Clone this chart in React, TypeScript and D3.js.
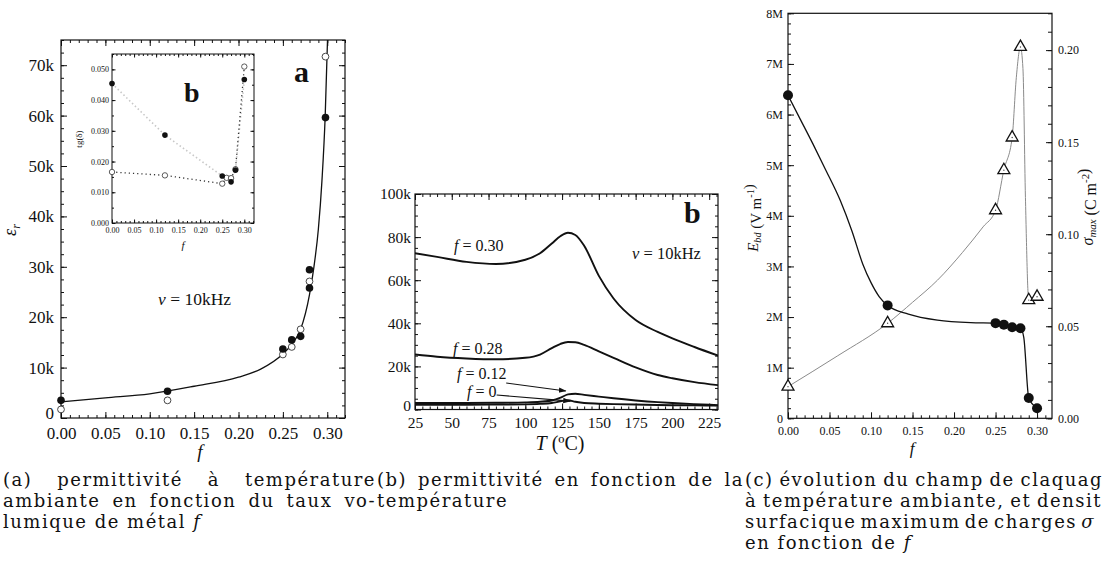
import React, { useEffect, useRef } from "react";
import * as d3 from "d3";

// ---------- (a) permittivity at room temperature vs f (10 kHz) ----------
const fFilledA = [0, 0.12, 0.25, 0.26, 0.27, 0.28, 0.28, 0.298];
const epsFilledA = [3500, 5300, 13700, 15500, 16200, 25800, 29400, 59600];
const fOpenA = [0, 0.12, 0.25, 0.26, 0.27, 0.28, 0.298];
const epsOpenA = [1700, 3500, 12600, 14100, 17600, 27100, 71700];
// fitted curve
const fFitA = [0, 0.05, 0.1, 0.15, 0.2, 0.225, 0.25, 0.26, 0.27, 0.28, 0.285, 0.29, 0.294, 0.2977, 0.3003];
const epsFitA = [3200, 4000, 4800, 6300, 8100, 9700, 12700, 14600, 17600, 24500, 30000, 37500, 47000, 60000, 75000];
const xTicksA = [0, 0.05, 0.1, 0.15, 0.2, 0.25, 0.3];
const yTicksA = [0, 10000, 20000, 30000, 40000, 50000, 60000, 70000];

// inset: loss tangent
const fFilledI = [0, 0.12, 0.25, 0.27, 0.28, 0.3];
const tgFilledI = [0.0454, 0.0286, 0.0153, 0.0134, 0.0172, 0.0467];
const fOpenI = [0, 0.12, 0.25, 0.26, 0.27, 0.28, 0.3];
const tgOpenI = [0.0166, 0.0155, 0.0128, 0.0147, 0.0146, 0.0175, 0.0509];
const xTicksI = [0, 0.05, 0.1, 0.15, 0.2, 0.25, 0.3];
const yTicksI = [0, 0.01, 0.02, 0.03, 0.04, 0.05];

// ---------- (b) permittivity vs temperature ----------
const tempsB = [25, 40, 60, 80, 100, 110, 118, 124, 129, 134, 140, 150, 160, 175, 190, 200, 215, 231];
const eps030 = [72500, 70800, 68500, 67500, 69500, 72500, 77000, 80500, 82000, 81000, 76000, 62000, 51500, 41500, 36000, 33000, 29000, 25000];
const eps028 = [25500, 24500, 23700, 23300, 24000, 25500, 28500, 30500, 31300, 31200, 30000, 27000, 24000, 19500, 16000, 14500, 12700, 11300];
const eps012 = [3000, 3000, 3000, 3100, 3300, 3600, 4200, 5500, 7000, 7300, 6800, 6000, 5200, 4200, 3400, 3000, 2500, 2000];
const eps000 = [2200, 2200, 2200, 2300, 2400, 2600, 3000, 3800, 4300, 3600, 3000, 2700, 2500, 2300, 2100, 2000, 1900, 1800];
const xTicksB = [25, 50, 75, 100, 125, 150, 175, 200, 225];
const yTicksB = [0, 20000, 40000, 60000, 80000, 100000];

// ---------- (c) breakdown field and max charge density vs f ----------
const fC = [0, 0.12, 0.25, 0.26, 0.27, 0.28, 0.29, 0.3];
const ebdC = [6.38e6, 2.23e6, 1.88e6, 1.85e6, 1.8e6, 1.78e6, 0.4e6, 0.2e6];
const sigmaC = [0.0172, 0.0516, 0.113, 0.1348, 0.1525, 0.2017, 0.0642, 0.066];
const fFitE = [0, 0.015, 0.03, 0.045, 0.063, 0.077, 0.09, 0.1, 0.11, 0.12, 0.145, 0.18, 0.22, 0.25, 0.26, 0.27, 0.28, 0.284, 0.29, 0.3];
const ebdFit = [6.38e6, 5.9e6, 5.42e6, 4.92e6, 4.3e6, 3.7e6, 3.05e6, 2.68e6, 2.4e6, 2.23e6, 2.06e6, 1.94e6, 1.89e6, 1.88e6, 1.85e6, 1.8e6, 1.78e6, 1.6e6, 0.4e6, 0.2e6];
const fFitS = [0, 0.06, 0.12, 0.15, 0.18, 0.21, 0.235, 0.25, 0.26, 0.27, 0.275, 0.28, 0.283, 0.286, 0.29, 0.3];
const sigmaFit = [0.0172, 0.034, 0.0516, 0.063, 0.075, 0.09, 0.104, 0.113, 0.1348, 0.1525, 0.185, 0.2017, 0.19, 0.12, 0.0642, 0.066];
const xTicksC = [0, 0.05, 0.1, 0.15, 0.2, 0.25, 0.3];
const yTicksCL = [0, 1e6, 2e6, 3e6, 4e6, 5e6, 6e6, 7e6, 8e6];
const yTicksCR = [0, 0.05, 0.1, 0.15, 0.2];

const serif = "Liberation Serif, Times New Roman, serif";
const capFont = "DejaVu Serif, serif";

type Seg = [string, boolean];
const captions: { x: number; line: number; segs: Seg[]; len?: number }[] = [
  { x: 3, line: 0, segs: [["(a) permittivité à température", false]], len: 373 },
  { x: 3, line: 1, segs: [["ambiante en fonction du taux vo-", false]], len: 373 },
  { x: 3, line: 2, segs: [["lumique de métal ", false], ["f", true]] },
  { x: 377, line: 0, segs: [["(b) permittivité en fonction de la", false]], len: 367 },
  { x: 377, line: 1, segs: [["température", false]] },
  { x: 745, line: 0, segs: [["(c) évolution du champ de claquag", false]], len: 358 },
  { x: 745, line: 1, segs: [["à température ambiante, et densit", false]], len: 357 },
  { x: 745, line: 2, segs: [["surfacique maximum de charges ", false], ["σ", true]], len: 350 },
  { x: 745, line: 3, segs: [["en fonction de ", false], ["f", true]] },
];

const zip = (a: number[], b: number[]) => a.map((k, i) => [k, b[i]] as [number, number]);
const range = (a: number, b: number, s: number) => d3.range(Math.round((b - a) / s) + 1).map((i) => +(a + i * s).toFixed(6));

function ticks(g: any, axis: any, tr: string, size: number) {
  const a = g.append("g").attr("transform", tr).call(axis);
  a.select(".domain").remove();
  a.attr("font-family", null).attr("font-size", null);
  a.selectAll("line").attr("stroke", "#111").attr("stroke-width", 1);
  a.selectAll("text").style("font-family", serif).style("font-size", `${size}px`).attr("fill", "#111");
  return a;
}

function frameAxes(g: any, x: any, y: any, o: any) {
  const [x0, x1] = x.range();
  const [y1, y0] = y.range();
  const none = () => "";
  ticks(g, d3.axisBottom(x).tickValues(o.xMin).tickSize(-o.small).tickFormat(none), `translate(0,${y1})`, o.fs);
  ticks(g, d3.axisBottom(x).tickValues(o.xMaj).tickSize(-o.big).tickPadding(o.xPad).tickFormat(o.xFmt), `translate(0,${y1})`, o.fs);
  ticks(g, d3.axisLeft(y).tickValues(o.yMin).tickSize(-o.small).tickFormat(none), `translate(${x0},0)`, o.fs);
  const left = ticks(g, d3.axisLeft(y).tickValues(o.yMaj).tickSize(-o.big).tickPadding(o.yPad).tickFormat(o.yFmt), `translate(${x0},0)`, o.fs);
  // lift the bottom "0" a little so it clears the first x label
  if (o.liftZero) left.selectAll("text").filter((d: number) => d === 0).attr("dy", "0.05em");
  if (o.top) {
    ticks(g, d3.axisTop(x).tickValues(o.xMin).tickSize(-o.small).tickFormat(none), `translate(0,${y0})`, o.fs);
    ticks(g, d3.axisTop(x).tickValues(o.xMaj).tickSize(-o.big).tickFormat(none), `translate(0,${y0})`, o.fs);
  }
  if (o.right) {
    ticks(g, d3.axisRight(y).tickValues(o.yMin).tickSize(-o.small).tickFormat(none), `translate(${x1},0)`, o.fs);
    ticks(g, d3.axisRight(y).tickValues(o.yMaj).tickSize(-o.big).tickFormat(none), `translate(${x1},0)`, o.fs);
  }
  g.append("rect").attr("x", x0).attr("y", y0).attr("width", x1 - x0).attr("height", y1 - y0)
    .attr("fill", "none").attr("stroke", "#111").attr("stroke-width", o.frame ?? 1.2);
}

function clip(defs: any, id: string, x: any, y: any) {
  const [x0, x1] = x.range();
  const [y1, y0] = y.range();
  defs.append("clipPath").attr("id", id).append("rect")
    .attr("x", x0).attr("y", y0).attr("width", x1 - x0).attr("height", y1 - y0);
}

function label(g: any, x: number, y: number, parts: [string, string?, number?][], size: number, rot = 0, anchor = "middle") {
  const t = g.append("text").style("font-family", serif).style("font-size", `${size}px`).attr("fill", "#111")
    .attr("text-anchor", anchor).attr("transform", `translate(${x},${y}) rotate(${rot})`);
  parts.forEach(([s, style, shift]) => {
    const sp = t.append("tspan").text(s);
    if (style && style.includes("i")) sp.attr("font-style", "italic");
    if (style && style.includes("b")) sp.attr("font-weight", "bold");
    if (shift) sp.style("font-size", `${size * 0.68}px`).attr("dy", shift);
    if (style && style.includes("r")) sp.attr("dy", -(shift ?? 0) || null);
  });
  return t;
}

const App = () => {
  const ref = useRef<SVGSVGElement>(null);

  useEffect(() => {
    const svg = d3.select(ref.current);
    svg.selectAll("*").remove();
    svg.append("rect").attr("width", 1103).attr("height", 587).attr("fill", "#fff");
    const defs = svg.append("defs");
    defs.append("marker").attr("id", "arr").attr("viewBox", "0 0 10 10").attr("refX", 9).attr("refY", 5)
      .attr("markerWidth", 7).attr("markerHeight", 7).attr("orient", "auto")
      .append("path").attr("d", "M0,1.5 L10,5 L0,8.5 z").attr("fill", "#111");

    // ======== panel (a) ========
    const xA = d3.scaleLinear().domain([0, 0.32]).range([61, 345]);
    const yA = d3.scaleLinear().domain([0, 75000]).range([418, 40]);
    clip(defs, "clipA", xA, yA);
    const gA = svg.append("g");
    frameAxes(gA, xA, yA, {
      xMaj: xTicksA, xMin: range(0, 0.32, 0.01), yMaj: yTicksA, yMin: range(0, 75000, 2500),
      xFmt: d3.format(".2f"), yFmt: (d: number) => (d === 0 ? "0" : `${d / 1000}k`),
      big: 6, small: 3, fs: 17, xPad: 9, yPad: 7, top: true, right: true, liftZero: true,
    });
    gA.append("path").datum(zip(fFitA, epsFitA)).attr("clip-path", "url(#clipA)")
      .attr("d", d3.line().x((d) => xA(d[0])).y((d) => yA(d[1])).curve(d3.curveMonotoneX))
      .attr("fill", "none").attr("stroke", "#111").attr("stroke-width", 1.3);
    gA.selectAll(".oa").data(zip(fOpenA, epsOpenA)).enter().append("circle")
      .attr("cx", (d) => xA(d[0])).attr("cy", (d) => yA(d[1])).attr("r", 3.4)
      .attr("fill", "#fff").attr("stroke", "#333").attr("stroke-width", 0.9);
    gA.selectAll(".fa").data(zip(fFilledA, epsFilledA)).enter().append("circle")
      .attr("cx", (d) => xA(d[0])).attr("cy", (d) => yA(d[1])).attr("r", 3.8).attr("fill", "#111");
    label(gA, 16, 230, [["ε", "i"], ["r", "i", 4]], 18, -90);
    label(gA, 200, 458, [["f", "i"]], 19);
    label(gA, 158, 305, [["ν", "i"], [" = 10kHz"]], 17.5, 0, "start");
    label(gA, 294, 82, [["a", "b"]], 30, 0, "start");

    // inset
    const xI = d3.scaleLinear().domain([0, 0.322]).range([112, 254]);
    const yI = d3.scaleLinear().domain([0, 0.055]).range([223, 54]);
    clip(defs, "clipI", xI, yI);
    const gI = svg.append("g");
    gI.append("rect").attr("x", 112).attr("y", 54).attr("width", 142).attr("height", 169).attr("fill", "#fff");
    frameAxes(gI, xI, yI, {
      xMaj: xTicksI, xMin: range(0, 0.32, 0.01), yMaj: yTicksI, yMin: range(0, 0.055, 0.005),
      xFmt: d3.format(".2f"), yFmt: d3.format(".3f"),
      big: 3.5, small: 2, fs: 8, xPad: 4, yPad: 3, top: true, right: true, frame: 1,
    });
    const lineI = d3.line().x((d) => xI(d[0])).y((d) => yI(d[1]));
    gI.append("path").datum(zip(fFilledI, tgFilledI)).attr("clip-path", "url(#clipI)").attr("d", lineI)
      .attr("fill", "none").attr("stroke", "#c8c8c8").attr("stroke-width", 1.6).attr("stroke-dasharray", "1.5,2.5");
    gI.append("path").datum(zip(fOpenI, tgOpenI)).attr("clip-path", "url(#clipI)").attr("d", lineI)
      .attr("fill", "none").attr("stroke", "#333").attr("stroke-width", 1.3).attr("stroke-dasharray", "1.2,3");
    gI.selectAll(".oi").data(zip(fOpenI, tgOpenI)).enter().append("circle")
      .attr("cx", (d) => xI(d[0])).attr("cy", (d) => yI(d[1])).attr("r", 2.7)
      .attr("fill", "#fff").attr("stroke", "#333").attr("stroke-width", 0.8);
    gI.selectAll(".fi").data(zip(fFilledI, tgFilledI)).enter().append("circle")
      .attr("cx", (d) => xI(d[0])).attr("cy", (d) => yI(d[1])).attr("r", 2.8).attr("fill", "#111");
    label(gI, 82, 139, [["tg(δ)"]], 9, -90);
    label(gI, 183, 249, [["f", "i"]], 11);
    label(gI, 184, 102, [["b", "b"]], 28, 0, "start");

    // ======== panel (b) ========
    const xB = d3.scaleLinear().domain([25, 231]).range([415, 718]);
    const yB = d3.scaleLinear().domain([0, 100000]).range([409.5, 194]);
    clip(defs, "clipB", xB, yB);
    const gB = svg.append("g");
    frameAxes(gB, xB, yB, {
      xMaj: xTicksB, xMin: range(25, 230, 5), yMaj: yTicksB, yMin: range(0, 100000, 5000),
      xFmt: d3.format("d"), yFmt: (d: number) => (d === 0 ? "0" : `${d / 1000}k`),
      big: 6, small: 3, fs: 15.5, xPad: 7, yPad: 4, top: true, right: true, liftZero: true,
    });
    const lineB = d3.line().x((d) => xB(d[0])).y((d) => yB(d[1])).curve(d3.curveMonotoneX);
    [eps030, eps028, eps012, eps000].forEach((vals) => {
      gB.append("path").datum(zip(tempsB, vals)).attr("clip-path", "url(#clipB)").attr("d", lineB)
        .attr("fill", "none").attr("stroke", "#111").attr("stroke-width", 1.9);
    });
    gB.append("line").attr("x1", xB(87)).attr("y1", yB(12300)).attr("x2", xB(127.5)).attr("y2", yB(8600))
      .attr("stroke", "#111").attr("stroke-width", 1.1).attr("marker-end", "url(#arr)");
    gB.append("line").attr("x1", xB(80.5)).attr("y1", yB(6700)).attr("x2", xB(130.5)).attr("y2", yB(3900))
      .attr("stroke", "#111").attr("stroke-width", 1.1).attr("marker-end", "url(#arr)");
    label(gB, 454, 251, [["f", "i"], [" = 0.30"]], 16, 0, "start");
    label(gB, 453, 354, [["f", "i"], [" = 0.28"]], 16, 0, "start");
    label(gB, 457, 379, [["f", "i"], [" = 0.12"]], 16, 0, "start");
    label(gB, 467, 397, [["f", "i"], [" = 0"]], 16, 0, "start");
    label(gB, 632, 259, [["ν", "i"], [" = 10kHz"]], 16.5, 0, "start");
    label(gB, 684, 223, [["b", "b"]], 30, 0, "start");
    label(gB, 560, 450, [["T", "i"], [" (ºC)"]], 20);
    defs.append("clipPath").attr("id", "clipBL").append("rect").attr("x", 380).attr("y", 0).attr("width", 40).attr("height", 587);
    label(gB, 390, 298, [["ε", "i"], ["r", "i", 4]], 18, -90).attr("clip-path", "url(#clipBL)");

    // ======== panel (c) ========
    const xC = d3.scaleLinear().domain([0, 0.318]).range([788, 1052]);
    const yCL = d3.scaleLinear().domain([0, 8e6]).range([418.3, 13.3]);
    const yCR = d3.scaleLinear().domain([0, 0.22]).range([418.3, 13.3]);
    clip(defs, "clipC", xC, yCL);
    const gC = svg.append("g");
    frameAxes(gC, xC, yCL, {
      xMaj: xTicksC, xMin: range(0, 0.31, 0.01), yMaj: yTicksCL, yMin: range(0, 8e6, 2e5),
      xFmt: d3.format(".2f"), yFmt: (d: number) => (d === 0 ? "0" : `${d / 1e6}M`),
      big: 6, small: 3, fs: 12, xPad: 8, yPad: 5, top: false, right: false,
    });
    ticks(gC, d3.axisRight(yCR).tickValues(range(0, 0.22, 0.01)).tickSize(-4).tickFormat(() => ""), "translate(1052,0)", 12);
    ticks(gC, d3.axisRight(yCR).tickValues(yTicksCR).tickSize(-6).tickPadding(6).tickFormat(d3.format(".2f")), "translate(1052,0)", 12);
    gC.append("path").datum(zip(fFitS, sigmaFit)).attr("clip-path", "url(#clipC)")
      .attr("d", d3.line().x((d) => xC(d[0])).y((d) => yCR(d[1])).curve(d3.curveMonotoneX))
      .attr("fill", "none").attr("stroke", "#8a8a8a").attr("stroke-width", 1);
    gC.append("path").datum(zip(fFitE, ebdFit)).attr("clip-path", "url(#clipC)")
      .attr("d", d3.line().x((d) => xC(d[0])).y((d) => yCL(d[1])).curve(d3.curveMonotoneX))
      .attr("fill", "none").attr("stroke", "#111").attr("stroke-width", 1.3);
    const tri = d3.symbol().type(d3.symbolTriangle).size(62);
    const triG = gC.selectAll(".tc").data(zip(fC, sigmaC)).enter().append("g")
      .attr("transform", (d) => `translate(${xC(d[0])},${yCR(d[1])})`);
    triG.append("path").attr("d", tri as any).attr("fill", "#fff").attr("stroke", "#111").attr("stroke-width", 1.3);
    triG.append("circle").attr("r", 0.7).attr("fill", "#444");
    gC.selectAll(".ec").data(zip(fC, ebdC)).enter().append("circle")
      .attr("cx", (d) => xC(d[0])).attr("cy", (d) => yCL(d[1])).attr("r", 5).attr("fill", "#111");
    label(gC, 758, 218, [["E", "i"], ["bd", "i", 3], [" (V m", "r"], ["-1", "", -7], [")", "r"]], 15, -90);
    label(gC, 1093, 207, [["σ", "i"], ["max", "i", 3], [" (C m", "r"], ["-2", "", -7], [")", "r"]], 16, -90);
    label(gC, 912, 454, [["f", "i"]], 17);

    // ======== captions (justified with word spacing) ========
    const baseY = [486, 507, 528, 549];
    captions.forEach((c) => {
      const t = svg.append("text").attr("x", c.x).attr("y", baseY[c.line])
        .style("font-family", capFont).style("font-size", "18px").style("letter-spacing", "1.5px").attr("fill", "#111");
      c.segs.forEach(([s, it]) => {
        const sp = t.append("tspan").text(s);
        if (it) sp.attr("font-style", "italic");
      });
      if (c.len) {
        const node = t.node() as SVGTextElement;
        const natural = node.getComputedTextLength();
        const spaces = c.segs.map((s) => s[0]).join("").split(" ").length - 1;
        if (spaces > 0) t.style("word-spacing", `${(c.len - natural) / spaces}px`);
      }
    });
  }, []);

  return <svg ref={ref} width={1103} height={587} style={{ position: "absolute", left: 0, top: 0 }} />;
};

export default App;
